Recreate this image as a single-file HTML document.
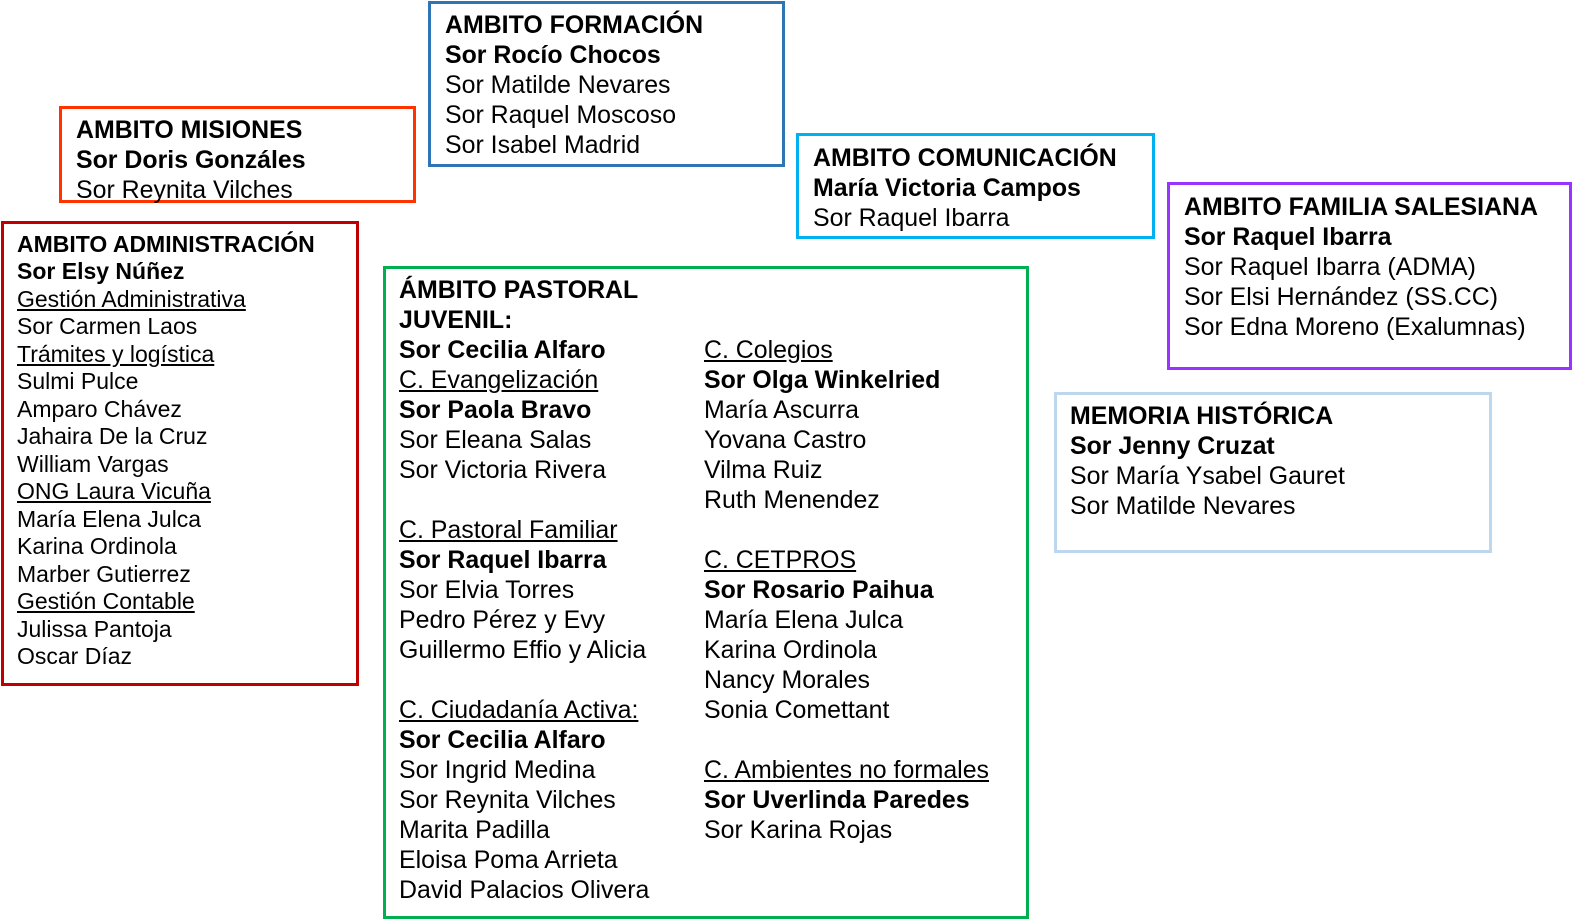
<!DOCTYPE html>
<html><head><meta charset="utf-8"><style>
body{margin:0;width:1573px;height:922px;background:#fff;position:relative;overflow:hidden;font-family:"Liberation Sans",Arial,sans-serif;color:#000}
.b{position:absolute;box-sizing:border-box;border:3px solid}
.t{position:absolute;font-size:24.9px;line-height:30px;white-space:nowrap}
.s{font-size:23px;line-height:27.47px}
b{font-weight:bold}
u{text-decoration:underline}
</style></head><body>
<div class="b" style="left:59px;top:106px;width:357px;height:97px;border-color:#FF3300"></div>
<div class="t" style="left:76px;top:115px"><b>AMBITO MISIONES</b><br><b>Sor Doris Gonzáles</b><br>Sor Reynita Vilches</div>

<div class="b" style="left:428px;top:1px;width:357px;height:166px;border-color:#2E75B6"></div>
<div class="t" style="left:445px;top:10px"><b>AMBITO FORMACIÓN</b><br><b>Sor Rocío Chocos</b><br>Sor Matilde Nevares<br>Sor Raquel Moscoso<br>Sor Isabel Madrid</div>

<div class="b" style="left:796px;top:133px;width:359px;height:106px;border-color:#00B0F0"></div>
<div class="t" style="left:813px;top:143px"><b>AMBITO COMUNICACIÓN</b><br><b>María Victoria Campos</b><br>Sor Raquel Ibarra</div>

<div class="b" style="left:1167px;top:182px;width:405px;height:188px;border-color:#9933FF"></div>
<div class="t" style="left:1184px;top:192px"><b>AMBITO FAMILIA SALESIANA</b><br><b>Sor Raquel Ibarra</b><br>Sor Raquel Ibarra (ADMA)<br>Sor Elsi Hernández (SS.CC)<br>Sor Edna Moreno (Exalumnas)</div>

<div class="b" style="left:1054px;top:392px;width:438px;height:161px;border-color:#BDD7EE"></div>
<div class="t" style="left:1070px;top:401px"><b>MEMORIA HISTÓRICA</b><br><b>Sor Jenny Cruzat</b><br>Sor María Ysabel Gauret<br>Sor Matilde Nevares</div>

<div class="b" style="left:1px;top:221px;width:358px;height:465px;border-color:#C00000"></div>
<div class="t s" style="left:17px;top:231px"><b>AMBITO ADMINISTRACIÓN</b><br><b>Sor Elsy Núñez</b><br><u>Gestión Administrativa</u><br>Sor Carmen Laos<br><u>Trámites y logística</u><br>Sulmi Pulce<br>Amparo Chávez<br>Jahaira De la Cruz<br>William Vargas<br><u>ONG Laura Vicuña</u><br>María Elena Julca<br>Karina Ordinola<br>Marber Gutierrez<br><u>Gestión Contable</u><br>Julissa Pantoja<br>Oscar Díaz</div>

<div class="b" style="left:383px;top:266px;width:646px;height:653px;border-color:#00B050"></div>
<div class="t" style="left:399px;top:275px"><b>ÁMBITO PASTORAL</b><br><b>JUVENIL:</b><br><b>Sor Cecilia Alfaro</b><br><u>C. Evangelización</u><br><b>Sor Paola Bravo</b><br>Sor Eleana Salas<br>Sor Victoria Rivera<br><br><u>C. Pastoral Familiar</u><br><b>Sor Raquel Ibarra</b><br>Sor Elvia Torres<br>Pedro Pérez y Evy<br>Guillermo Effio y Alicia<br><br><u>C. Ciudadanía Activa:</u><br><b>Sor Cecilia Alfaro</b><br>Sor Ingrid Medina<br>Sor Reynita Vilches<br>Marita Padilla<br>Eloisa Poma Arrieta<br>David Palacios Olivera</div>
<div class="t" style="left:704px;top:335px"><u>C. Colegios</u><br><b>Sor Olga Winkelried</b><br>María Ascurra<br>Yovana Castro<br>Vilma Ruiz<br>Ruth Menendez<br><br><u>C. CETPROS</u><br><b>Sor Rosario Paihua</b><br>María Elena Julca<br>Karina Ordinola<br>Nancy Morales<br>Sonia Comettant<br><br><u>C. Ambientes no formales</u><br><b>Sor Uverlinda Paredes</b><br>Sor Karina Rojas</div>
</body></html>
